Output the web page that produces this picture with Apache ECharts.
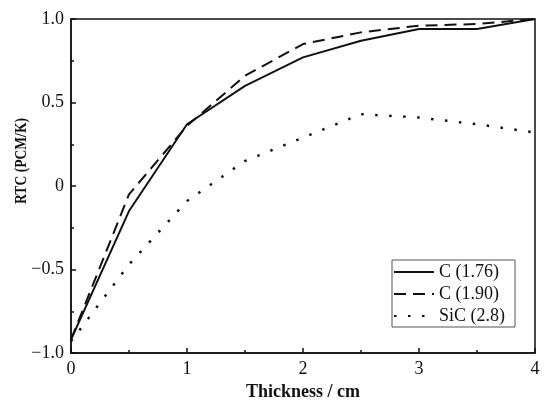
<!DOCTYPE html>
<html>
<head>
<meta charset="utf-8">
<script src="https://cdn.jsdelivr.net/npm/echarts@6/dist/echarts.min.js"></script>
<style>
  html, body { margin: 0; padding: 0; background: #fff; }
  #chart { width: 544px; height: 406px; }
</style>
</head>
<body>
<div id="chart"></div>
<script>
// thickness (cm)
var thickness = [0, 0.5, 1, 1.5, 2, 2.5, 3, 3.5, 4];
// RTC values
var c176 = [-0.92, -0.15, 0.37, 0.60, 0.77, 0.87, 0.94, 0.94, 1.0];
var c190 = [-0.92, -0.05, 0.36, 0.66, 0.85, 0.92, 0.96, 0.97, 1.0];
var sic28 = [-0.93, -0.47, -0.09, 0.15, 0.29, 0.43, 0.41, 0.37, 0.32];
var seriesNames = ['C (1.76)', 'C (1.90)', 'SiC (2.8)'];

var serif = '"Liberation Serif", "DejaVu Serif", serif';

function pairs(ys) {
  return thickness.map(function (x, i) { return [x, ys[i]]; });
}

function tickText(v) {
  if (v === 0) return '0';
  return v.toFixed(1).replace('-', '\u2212');
}

var chart = echarts.init(document.getElementById('chart'));

chart.setOption({
  animation: false,
  grid: {
    left: 71,
    right: 9,
    top: 19,
    bottom: 45,
    show: true,
    borderColor: '#111',
    borderWidth: 1.5
  },
  // y axis title sits a bit above the plot middle in the original (and looks squashed)
  graphic: [{
    type: 'text',
    x: 22,
    y: 161,
    rotation: Math.PI / 2,
    scaleX: 0.85,
    style: {
      text: 'RTC (PCM/K)',
      font: 'bold 16px ' + serif,
      fill: '#111',
      align: 'center',
      verticalAlign: 'middle'
    }
  }],
  legend: {
    orient: 'vertical',
    left: 392,
    top: 260,
    data: seriesNames,
    backgroundColor: '#fff',
    borderColor: '#555',
    borderWidth: 1,
    padding: [3, 10, 2, 1],
    itemGap: 4,
    itemWidth: 40,
    itemHeight: 14,
    itemStyle: { opacity: 0 },
    textStyle: { fontFamily: serif, fontSize: 18, lineHeight: 18, color: '#111', padding: [0, 0, 0, 0] }
  },
  xAxis: {
    type: 'value',
    min: 0,
    max: 4,
    interval: 1,
    name: 'Thickness / cm',
    nameLocation: 'middle',
    nameGap: 30,
    nameTextStyle: { fontFamily: serif, fontSize: 18, fontWeight: 'bold', color: '#111' },
    axisLine: { onZero: false, lineStyle: { color: '#111', width: 1.5 } },
    axisTick: { inside: true, length: 5, lineStyle: { color: '#111', width: 1.5 } },
    minorTick: { show: true, splitNumber: 2, length: 3, lineStyle: { color: '#111', width: 1.5 } },
    splitLine: { show: false },
    axisLabel: { fontFamily: serif, fontSize: 18, color: '#111', margin: 7, showMaxLabel: true }
  },
  yAxis: {
    type: 'value',
    min: -1,
    max: 1,
    interval: 0.5,
    axisLine: { show: true, onZero: false, lineStyle: { color: '#111', width: 1.5 } },
    axisTick: { show: true, inside: true, length: 5, lineStyle: { color: '#111', width: 1.5 } },
    minorTick: { show: true, splitNumber: 2, length: 3, lineStyle: { color: '#111', width: 1.5 } },
    splitLine: { show: false },
    axisLabel: {
      fontFamily: serif,
      fontSize: 18,
      color: '#111',
      margin: 7,
      formatter: tickText
    }
  },
  series: [
    {
      name: seriesNames[0],
      type: 'line',
      data: pairs(c176),
      symbol: 'none',
      itemStyle: { color: '#111' },
      lineStyle: { color: '#111', width: 2 }
    },
    {
      name: seriesNames[1],
      type: 'line',
      data: pairs(c190),
      symbol: 'none',
      itemStyle: { color: '#111' },
      lineStyle: { color: '#111', width: 2, type: [12, 7] }
    },
    {
      name: seriesNames[2],
      type: 'line',
      data: pairs(sic28),
      symbol: 'none',
      itemStyle: { color: '#111' },
      lineStyle: { color: '#111', width: 2.5, type: [2.5, 11.5] }
    }
  ]
});
</script>
</body>
</html>
